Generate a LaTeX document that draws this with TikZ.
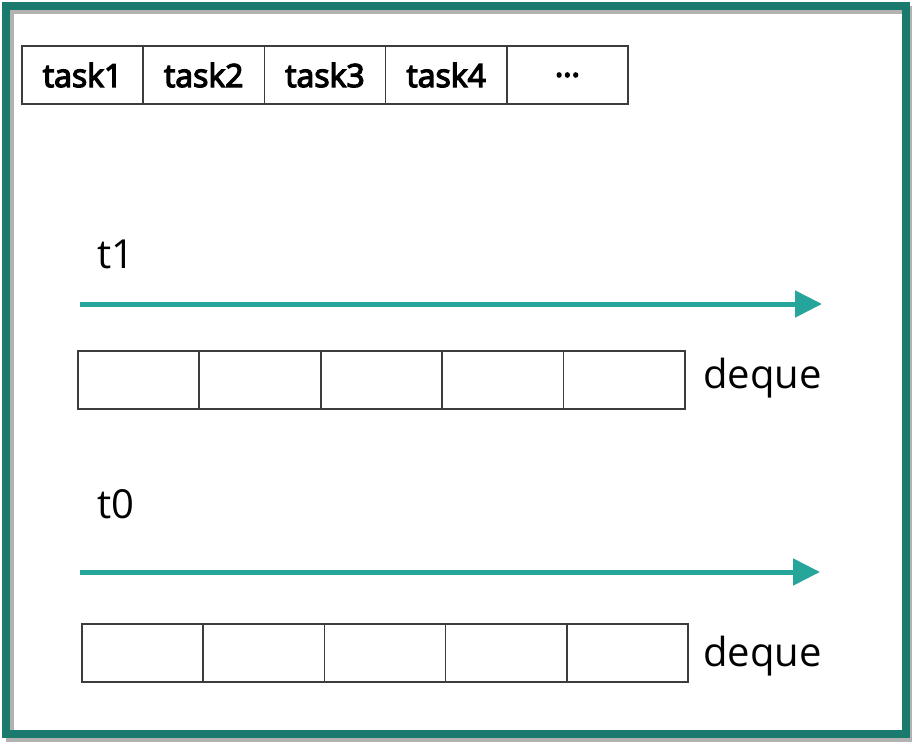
\documentclass[tikz,border=0pt]{standalone}
\usepackage{fontspec}
\setmainfont{Open Sans}
\newfontfamily\taskfont[FakeBold=4]{Open Sans}
\usetikzlibrary{arrows.meta}
\definecolor{framecol}{RGB}{27,122,110}
\definecolor{arrowcol}{RGB}{38,166,154}
\definecolor{cellcol}{RGB}{60,60,60}
\begin{document}
\begin{tikzpicture}[x=1pt, y=-1pt,
        cell/.style={draw=cellcol, line width=1.5pt, minimum width=121.2pt,
                     minimum height=58pt, inner sep=0pt, outer sep=0pt, anchor=north west},
        tasktext/.style={font=\taskfont\fontsize{32}{36}\selectfont},
        label/.style={font=\fontsize{40}{44}\selectfont, anchor=base west, inner sep=0pt},
        flow/.style={draw=arrowcol, line width=5pt,
                     -{Triangle[length=27pt,width=26pt]}}]
    \useasboundingbox (0,0) rectangle (912,744);
    % frame with shadow
    \draw[black!30, line width=8pt] (10,10) rectangle (909,738);
    \draw[framecol, line width=8pt] (6,6) rectangle (906,734);

    % task queue
    \foreach \name [count=\i] in {task1,task2,task3,task4,\dots}
        \node[cell, tasktext] (task\i) at ({22+121.2*(\i-1)},46) {\name};

    % thread t1
    \node[label] (t1) at (97,268) {t1};
    \coordinate (a1s) at (80,304);
    \coordinate (a1e) at (822,304);
    \draw[flow] (a1s) -- (a1e);
    \foreach \i in {1,...,5}
        \node[cell] (dqa\i) at ({78+121.4*(\i-1)},351) {};
    \node[label] (deque1) at (703,388) {deque};

    % thread t0
    \node[label] (t0) at (97,518) {t0};
    \coordinate (a0s) at (80,572);
    \coordinate (a0e) at (820,572);
    \draw[flow] (a0s) -- (a0e);
    \foreach \i in {1,...,5}
        \node[cell] (dqb\i) at ({82+121.2*(\i-1)},624) {};
    \node[label] (deque0) at (703,666) {deque};
\end{tikzpicture}
\end{document}
